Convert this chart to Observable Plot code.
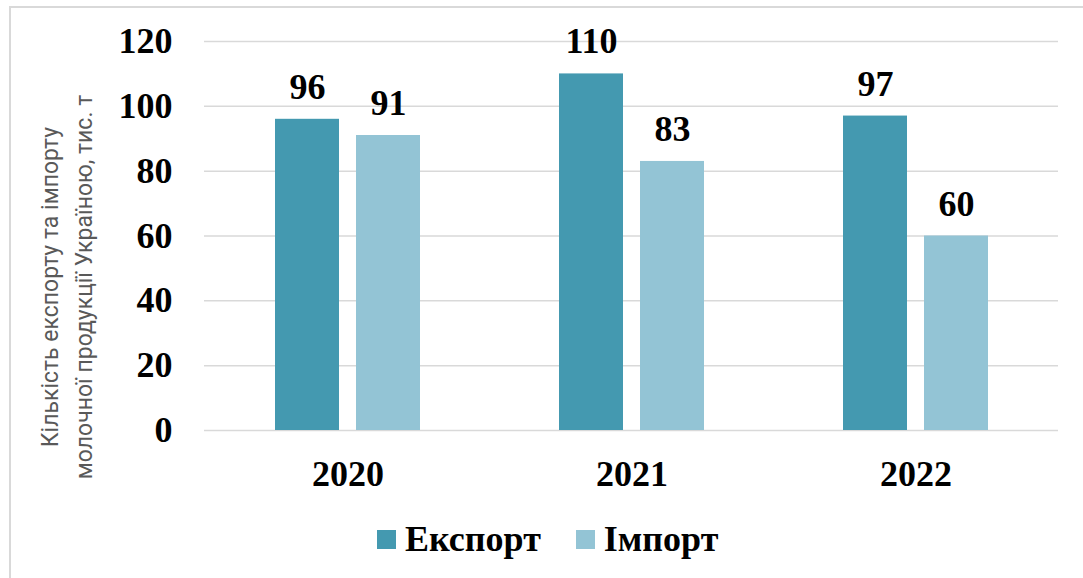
<!DOCTYPE html>
<html>
<head>
<meta charset="utf-8">
<script src="https://cdn.jsdelivr.net/npm/d3@7"></script>
<script src="https://cdn.jsdelivr.net/npm/@observablehq/plot@0.6"></script>
<style>
  html, body { margin: 0; padding: 0; background: #fff; overflow: hidden; }
  #wrap { position: relative; width: 1083px; height: 578px; }
  #frame {
    position: absolute; left: 9px; top: 6px; width: 1100px; height: 600px;
    border: 2px solid #d9d9d9; box-sizing: border-box;
  }
  #chart { position: absolute; left: 0; top: 0; }
  #legend {
    position: absolute; left: 377px; top: 518px; display: flex; align-items: center;
    font-family: "Liberation Serif", "Times New Roman", serif; font-weight: bold; font-size: 36px;
    color: #000; white-space: nowrap;
  }
  .item { display: flex; align-items: center; margin-right: 35px; }
  .swatch { width: 19px; height: 19px; margin-right: 9px; }
</style>
</head>
<body>
<div id="wrap">
  <div id="frame"></div>
  <div id="chart"></div>
  <div id="legend"></div>
</div>
<script>
// Dairy export / import of Ukraine, thousand tonnes
const years = ["2020", "2021", "2022"];
const series = ["Експорт", "Імпорт"];
const exportValues = [96, 110, 97];
const importValues = [91, 83, 60];
const colors = ["#4499b0", "#93c4d5"];
const yTicks = [0, 20, 40, 60, 80, 100, 120];
const yLabelLines = ["Кількість експорту та імпорту", "молочної продукції Україною, тис. т"];

const exportData = years.map((year, i) => ({year, series: series[0], value: exportValues[i]}));
const importData = years.map((year, i) => ({year, series: series[1], value: importValues[i]}));

// each year band holds a pair of bars: export on the left, import on the right
const barW = 64;
const gap = 17;
const half = (barW + gap) / 2;

const labelStyle = {fontSize: 36, fontWeight: "bold", fill: "#000", lineAnchor: "middle", dy: -32};

const chart = Plot.plot({
  width: 1083,
  height: 500,
  marginLeft: 204,
  marginRight: 25,
  marginTop: 41,
  marginBottom: 70,
  style: {
    fontFamily: "'Liberation Serif', 'Times New Roman', serif",
    fontSize: "36px",
    fontWeight: "bold",
    color: "#000",
    background: "transparent",
    overflow: "visible"
  },
  x: {domain: years, paddingInner: 0.49, paddingOuter: 0.245, label: null},
  y: {domain: [0, 120], label: null},
  color: {domain: series, range: colors},
  marks: [
    Plot.gridY(yTicks, {stroke: "#d9d9d9", strokeOpacity: 1, strokeWidth: 1.5}),
    Plot.axisY(yTicks, {tickSize: 0, tickPadding: 32, tickFormat: d => String(d), fontSize: 36, fontWeight: "bold"}),
    Plot.axisX({tickSize: 0, tickPadding: 30, fontSize: 36, fontWeight: "bold", label: null}),
    Plot.barY(exportData, {x: "year", y: "value", fill: "series", insetRight: barW + gap}),
    Plot.barY(importData, {x: "year", y: "value", fill: "series", insetLeft: barW + gap}),
    Plot.text(exportData, {x: "year", y: "value", text: d => String(d.value), dx: -half, ...labelStyle}),
    Plot.text(importData, {x: "year", y: "value", text: d => String(d.value), dx: half, ...labelStyle})
  ]
});
document.getElementById("chart").appendChild(chart);

// Rotated two-line y-axis title
const svg = d3.select(chart);
const titleX = [58, 92];
yLabelLines.forEach((line, i) => {
  svg.append("text")
    .attr("transform", `translate(${titleX[i]},287) rotate(-90)`)
    .attr("text-anchor", "middle")
    .style("font-family", "Roboto, 'Open Sans', sans-serif")
    .style("font-weight", "normal")
    .style("font-size", "23px")
    .attr("fill", "#595959")
    .text(line);
});

// Legend
const legend = d3.select("#legend");
series.forEach((s, i) => {
  const item = legend.append("div").attr("class", "item");
  item.append("div").attr("class", "swatch").style("background", colors[i]);
  item.append("span").text(s);
});
</script>
</body>
</html>
